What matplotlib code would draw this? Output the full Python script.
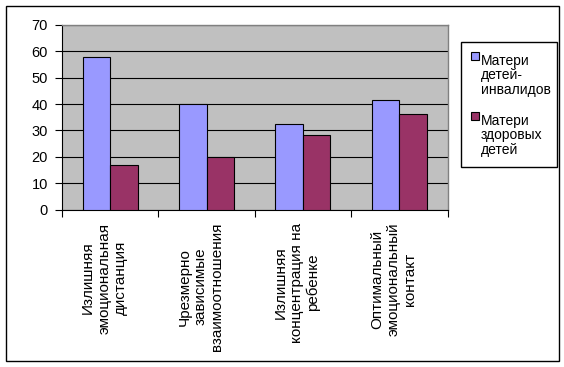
import numpy as np
import matplotlib
matplotlib.use("Agg")
import matplotlib.pyplot as plt
from matplotlib.patches import Rectangle
from matplotlib.transforms import offset_copy

plt.rcParams['font.family'] = ['Liberation Sans', 'DejaVu Sans']

categories = ["Излишняя\nэмоциональная\nдистанция",
              "Чрезмерно\nзависимые\nвзаимоотношения",
              "Излишняя\nконцентрация на\nребенке",
              "Оптимальный\nэмоциональный\nконтакт"]
series_names = ["Матери\nдетей-\nинвалидов", "Матери\nздоровых\nдетей"]
disabled = [58, 40, 32.6, 41.4]
healthy = [16.8, 20, 28.1, 36.1]
colors = ["#9999FF", "#993366"]

W, H = 564, 367

def fx(x):
    return x / W

def fy(y):
    return 1 - y / H

fig = plt.figure(figsize=(W / 100, H / 100), dpi=100)
fig.patch.set_facecolor("white")

# outer chart border
fig.patches.append(Rectangle((fx(5.5), fy(361)), fx(558.5) - fx(5.5), fy(5.5) - fy(361),
                             transform=fig.transFigure, fill=False, edgecolor="black",
                             linewidth=1.0))

ax = fig.add_axes([fx(62), fy(209.5), fx(447.5) - fx(62), fy(25) - fy(209.5)])
ax.set_facecolor("#C0C0C0")

x = np.arange(len(categories))
bw = 1 / 3.5
ax.bar(x - bw / 2, disabled, bw, color=colors[0], edgecolor="black", linewidth=0.8, zorder=3)
ax.bar(x + bw / 2, healthy, bw, color=colors[1], edgecolor="black", linewidth=0.8, zorder=3)

ax.set_xlim(-0.5, len(categories) - 0.5)
ax.set_ylim(0, 70)
ax.set_yticks(range(0, 71, 10))
ax.yaxis.grid(True, color="black", linewidth=0.8, zorder=1)
ax.set_axisbelow(True)

ax.set_xticks(np.arange(-0.5, len(categories), 1))
ax.set_xticklabels([])
ax.tick_params(axis="x", direction="out", length=5, width=0.8, color="black")
ax.tick_params(axis="y", direction="out", length=5, width=0.8, color="black",
               labelsize=10.5, pad=5)

for s in ["top", "right"]:
    ax.spines[s].set_color("#808080")
    ax.spines[s].set_linewidth(1.0)
for s in ["left", "bottom"]:
    ax.spines[s].set_color("black")
    ax.spines[s].set_linewidth(0.8)

# rotated category labels, shifted a little left like the original
lab_tr = offset_copy(ax.get_xaxis_transform(), fig=fig, x=-6, y=0, units="dots")
for i, lab in enumerate(categories):
    ax.text(i, -0.07, lab, transform=lab_tr, rotation=90,
            ha="center", va="top", multialignment="center", fontsize=11,
            linespacing=1.2)

# legend
fig.patches.append(Rectangle((fx(460.5), fy(167)), fx(557) - fx(460.5), fy(42) - fy(167),
                             transform=fig.transFigure, fill=False, edgecolor="black",
                             linewidth=1.0))
tops = [53.5, 113.5]
for name, c, t in zip(series_names, colors, tops):
    fig.patches.append(Rectangle((fx(471), fy(t + 6.5)), 8 / W, 8 / H,
                                 transform=fig.transFigure, facecolor=c,
                                 edgecolor="black", linewidth=0.8))
    fig.text(fx(481), fy(t), name, ha="left", va="top", fontsize=10, linespacing=1.05)

fig.savefig("out.png", dpi=100)
